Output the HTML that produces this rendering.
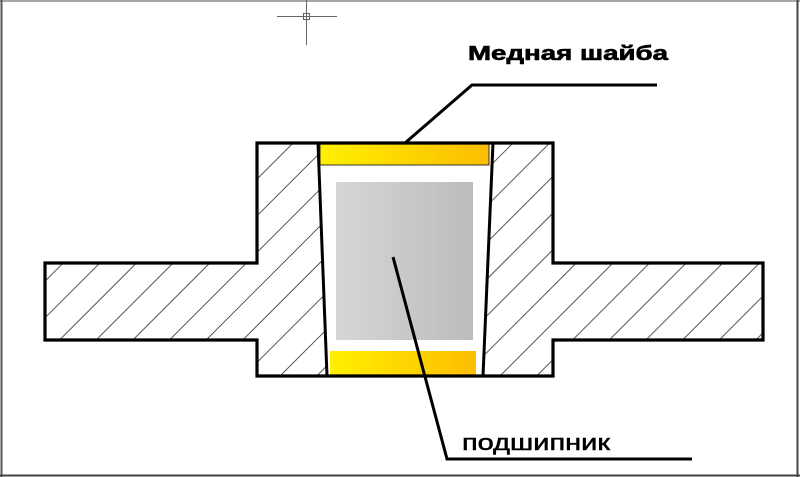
<!DOCTYPE html>
<html><head><meta charset="utf-8"><style>
html,body{margin:0;padding:0;background:#fff;}
svg{display:block;}
</style></head><body>
<svg width="800" height="477" viewBox="0 0 800 477" xmlns="http://www.w3.org/2000/svg">
<defs>
<linearGradient id="yel" x1="0" y1="0" x2="1" y2="0">
<stop offset="0" stop-color="#fff000"/><stop offset="1" stop-color="#fcbd00"/>
</linearGradient>
<linearGradient id="gry" x1="0" y1="0" x2="1" y2="0">
<stop offset="0" stop-color="#d6d6d6"/><stop offset="1" stop-color="#bcbcbc"/>
</linearGradient>
<clipPath id="hc">
<polygon points="45,263 257,263 257,143 318,143 327,376 257,376 257,340 45,340"/>
<polygon points="493,143 553,143 553,263 763,263 763,340 553,340 553,376 483,376"/>
</clipPath>
</defs>
<rect x="0" y="0" width="800" height="477" fill="#fff"/>
<!-- frame -->
<line x1="0" y1="1" x2="800" y2="1" stroke="#888" stroke-width="1.5"/>
<line x1="1.5" y1="0" x2="1.5" y2="477" stroke="#555" stroke-width="2"/>
<line x1="797.5" y1="0" x2="797.5" y2="477" stroke="#444" stroke-width="2"/>
<line x1="0" y1="475.5" x2="800" y2="475.5" stroke="#444" stroke-width="2"/>
<!-- crosshair -->
<g stroke="#666" stroke-width="1" fill="none">
<line x1="306.5" y1="0" x2="306.5" y2="45"/>
<line x1="277" y1="16.5" x2="337" y2="16.5"/>
<rect x="303.5" y="13.5" width="6" height="6"/>
</g>
<!-- hatching -->
<g clip-path="url(#hc)">
<path stroke="#555" stroke-width="1" fill="none" d="
M79.6,100L-220.4,400
M116.25,100L-183.75,400
M152.9,100L-147.1,400
M189.55,100L-110.45,400
M226.2,100L-73.8,400
M262.85,100L-37.15,400
M299.5,100L-0.5,400
M336.15,100L36.15,400
M372.8,100L72.8,400
M409.45,100L109.45,400
M446.1,100L146.1,400
M482.75,100L182.75,400
M519.4,100L219.4,400
M556.05,100L256.05,400
M592.7,100L292.7,400
M629.35,100L329.35,400
M666,100L366,400
M702.65,100L402.65,400
M739.3,100L439.3,400
M775.95,100L475.95,400
M812.6,100L512.6,400
M849.25,100L549.25,400
M885.9,100L585.9,400
M922.55,100L622.55,400
M959.2,100L659.2,400
M995.85,100L695.85,400
M1032.5,100L732.5,400
M1069.15,100L769.15,400
"/>
</g>
<!-- washers and bearing -->
<rect x="320" y="144" width="169" height="21" fill="url(#yel)" stroke="#333" stroke-width="1"/>
<rect x="330" y="351" width="146" height="24" fill="url(#yel)"/>
<rect x="336" y="182" width="137" height="158" fill="url(#gry)"/>
<!-- outline -->
<polygon points="45,263 257,263 257,143 553,143 553,263 763,263 763,340 553,340 553,376 257,376 257,340 45,340" fill="none" stroke="#000" stroke-width="3.2" stroke-linejoin="miter"/>
<line x1="318" y1="143" x2="327" y2="376" stroke="#000" stroke-width="3"/>
<line x1="493" y1="143" x2="483" y2="376" stroke="#000" stroke-width="3"/>
<!-- leaders -->
<polyline points="405,143 472,85 657,85" fill="none" stroke="#000" stroke-width="3"/>
<polyline points="393,257 447,459 692,459" fill="none" stroke="#000" stroke-width="3"/>
<!-- labels -->
<text x="468" y="60" font-family="Liberation Sans, sans-serif" font-weight="bold" font-size="20" textLength="200" lengthAdjust="spacingAndGlyphs" fill="#000" stroke="#000" stroke-width="0.6">Медная шайба</text>
<text x="462" y="450" font-family="Liberation Sans, sans-serif" font-size="22" textLength="148" lengthAdjust="spacingAndGlyphs" fill="#000" stroke="#000" stroke-width="0.5">подшипник</text>
</svg>
</body></html>
